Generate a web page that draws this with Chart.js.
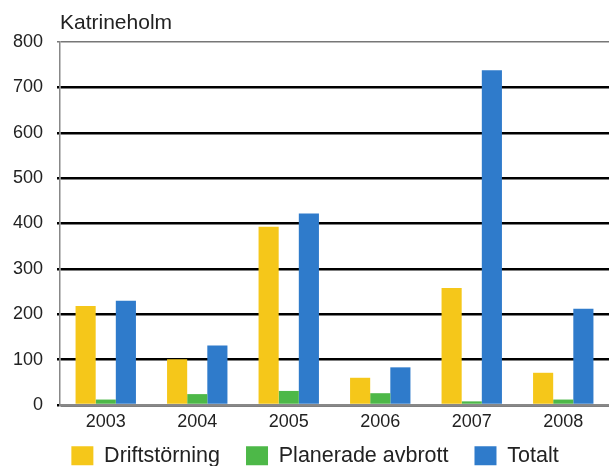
<!DOCTYPE html>
<html>
<head>
<meta charset="utf-8">
<script src="https://cdn.jsdelivr.net/npm/chart.js@4/dist/chart.umd.min.js"></script>
<style>
  html, body { margin: 0; padding: 0; background: #fff; }
  #wrap { width: 609px; height: 466px; }
</style>
</head>
<body>
<div id="wrap"><canvas id="chart" width="609" height="466"></canvas></div>
<script>
// data
const years = ['2003', '2004', '2005', '2006', '2007', '2008'];
const driftstorning = [218, 101, 393, 60, 258, 71];
const planerade = [12, 24, 31, 26, 8, 12];
const totalt = [230, 131, 422, 83, 738, 212];
const yTicks = [0, 100, 200, 300, 400, 500, 600, 700, 800];

const FONT = "'Liberation Sans', Arial, sans-serif";

// title over the left edge of the plot, legend pulled up closer to the axis
const titlePlugin = {
    id: 'sideTitle',
    beforeDraw(chart) {
        const lg = chart.legend;
        if (lg && !lg._moved) {
            lg.top -= 22;
            lg.bottom -= 22;
            lg.left += 8;
            lg.right += 8;
            lg._moved = true;
        }
    },
    afterDraw(chart) {
        const ctx = chart.ctx;
        ctx.save();
        ctx.font = '21px ' + FONT;
        ctx.fillStyle = '#222';
        ctx.textBaseline = 'alphabetic';
        ctx.fillText('Katrineholm', chart.chartArea.left, 29);
        ctx.restore();
    }
};

new Chart(document.getElementById('chart').getContext('2d'), {
    type: 'bar',
    data: {
        labels: years,
        datasets: [
            { label: 'Driftstörning', data: driftstorning, backgroundColor: '#F5C71A' },
            { label: 'Planerade avbrott', data: planerade, backgroundColor: '#4DB848' },
            { label: 'Totalt', data: totalt, backgroundColor: '#2F7BCB' }
        ]
    },
    options: {
        responsive: false,
        animation: false,
        devicePixelRatio: 1,
        layout: { padding: { top: 42, right: -5, left: 0, bottom: -32.5 } },
        datasets: {
            bar: { categoryPercentage: 0.66, barPercentage: 1.0 }
        },
        plugins: {
            title: { display: false },
            tooltip: { enabled: false },
            legend: {
                position: 'bottom',
                labels: {
                    boxWidth: 22,
                    boxHeight: 19,
                    padding: 26,
                    color: '#222',
                    font: { family: FONT, size: 21.5 }
                }
            }
        },
        scales: {
            x: {
                afterFit(scale) { scale.height = 36; },
                grid: { display: false, drawTicks: false },
                border: { display: true, color: '#888', width: 2 },
                ticks: { color: '#222', padding: 6, font: { family: FONT, size: 18 } }
            },
            y: {
                min: 0,
                max: 800,
                afterBuildTicks(scale) {
                    scale.ticks = yTicks.map(v => ({ value: v }));
                },
                afterFit(scale) { scale.width = 60; },
                border: { display: true, color: '#888', width: 1.5 },
                grid: {
                    drawTicks: true,
                    tickLength: 3,
                    lineWidth: ctx => (ctx.tick && ctx.tick.value === 800 ? 1.5 : 2.5),
                    color: ctx => (ctx.tick && ctx.tick.value === 800 ? '#777' : '#000')
                },
                ticks: { color: '#222', padding: 14, font: { family: FONT, size: 18 } }
            }
        }
    },
    plugins: [titlePlugin]
});
</script>
</body>
</html>
